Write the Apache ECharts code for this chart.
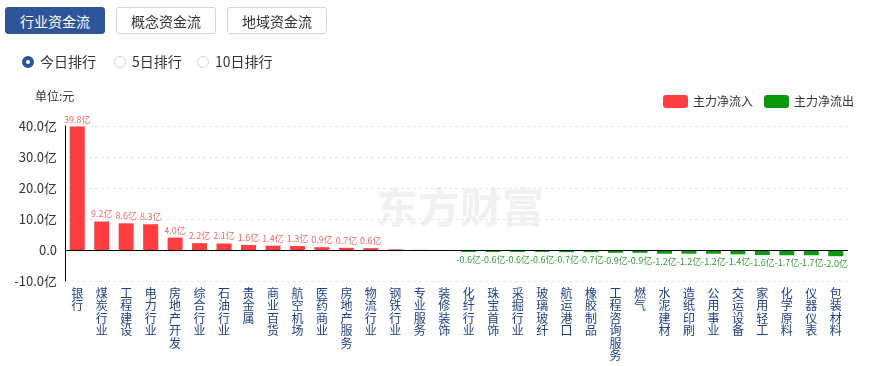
<!DOCTYPE html>
<html><head><meta charset="utf-8">
<script src="https://cdn.jsdelivr.net/npm/echarts@6/dist/echarts.min.js"></script>
<style>
html,body{margin:0;padding:0;background:#fff;font-family:"Noto Sans CJK SC",sans-serif;}
#wrap{position:relative;width:869px;height:366px;overflow:hidden;}
#chart{position:absolute;left:0;top:0;width:869px;height:366px;}
.tab{position:absolute;top:7px;height:27px;line-height:27px;width:100px;text-align:center;font-size:14px;color:#333;border:1px solid #d0d7e2;border-radius:3px;background:#fff;box-sizing:border-box;}
.tab.on{background:#2d5597;color:#fff;border-color:#2d5597;}
.radio{position:absolute;top:52px;font-size:14px;color:#333;line-height:18px;}
.radio i{display:inline-block;width:10px;height:10px;border:1px solid #cfd6e0;border-radius:50%;vertical-align:-1px;margin-right:6px;box-sizing:content-box;}
.radio i.on{border:4px solid #2d5597;width:4px;height:4px;}
</style></head>
<body><div id="wrap">
<div id="chart"></div>
<div class="tab on" style="left:5px">行业资金流</div>
<div class="tab" style="left:116px">概念资金流</div>
<div class="tab" style="left:227px">地域资金流</div>
<div class="radio" style="left:22px"><i class="on"></i>今日排行</div>
<div class="radio" style="left:114px"><i></i>5日排行</div>
<div class="radio" style="left:197px"><i></i>10日排行</div>
</div>
<script>
const categories = ['银行','煤炭行业','工程建设','电力行业','房地产开发','综合行业','石油行业','贵金属','商业百货','航空机场','医药商业','房地产服务','物流行业','钢铁行业','专业服务','装修装饰','化纤行业','珠宝首饰','采掘行业','玻璃玻纤','航运港口','橡胶制品','工程咨询服务','燃气','水泥建材','造纸印刷','公用事业','交运设备','家用轻工','化学原料','仪器仪表','包装材料'];
const netFlow = [39.8,9.2,8.6,8.3,4.0,2.2,2.1,1.6,1.4,1.3,0.9,0.7,0.6,0.2,0.05,-0.1,-0.6,-0.6,-0.6,-0.6,-0.7,-0.7,-0.9,-0.9,-1.2,-1.2,-1.2,-1.4,-1.6,-1.7,-1.7,-2.0];
const yTicks = {min:-10, max:40, interval:10};
const legendNames = ['主力净流入','主力净流出'];

const inflow = netFlow.map(v => v > 0 ? v : '-');
const outflow = netFlow.map(v => v < 0 ? v : '-');
const labelFmt = p => Math.abs(p.value) < 0.5 ? '' : p.value.toFixed(1) + '亿';

const chart = echarts.init(document.getElementById('chart'));
chart.setOption({
  animation:false,
  textStyle:{fontFamily:'"Noto Sans CJK SC",sans-serif'},
  graphic:[
    {type:'text', left:35, top:90, style:{text:'单位:元', fontSize:12, fill:'#333', fontFamily:'"Noto Sans CJK SC"'}},
    {type:'text', left:376, top:186, z:-1, style:{text:'东方财富', fontSize:42, fontWeight:'bold', fill:'#f1f1f1', fontFamily:'"Noto Sans CJK SC"'}}
  ],
  legend:{right:10, top:90, itemWidth:25, itemHeight:13, itemGap:11, icon:'roundRect',
    textStyle:{fontSize:12, color:'#333'}, data:legendNames},
  grid:{left:65, right:21, top:126, height:155, containLabel:false, outerBoundsMode:'none'},
  xAxis:{type:'category', data:categories, position:'bottom',
    axisLine:{show:false, onZero:false}, axisTick:{show:false},
    axisLabel:{interval:0, margin:6, fontSize:12, lineHeight:12.5, color:'#1d3f86',
      formatter:v => v.split('').join('\n')}},
  yAxis:{type:'value', min:yTicks.min, max:yTicks.max, interval:yTicks.interval,
    axisLine:{show:true, lineStyle:{color:'#000'}}, axisTick:{show:false},
    axisLabel:{fontSize:13, color:'#333', margin:8, formatter:v => v === 0 ? '0.0' : v.toFixed(1) + '亿'},
    splitLine:{lineStyle:{color:'#e6e6e6', type:[3,3]}}},
  series:[
    {name:legendNames[0], type:'bar', stack:'f', data:inflow, barWidth:15,
      itemStyle:{color:'#ff3f3f'},
      label:{show:true, position:'top', fontSize:9, color:'#ef6b6b', distance:3, formatter:labelFmt},
      markLine:{silent:true, symbol:'none', label:{show:false}, lineStyle:{color:'#000', type:'solid', width:1},
        data:[{yAxis:0}]}},
    {name:legendNames[1], type:'bar', stack:'f', data:outflow, barWidth:15,
      itemStyle:{color:'#0a990a'},
      label:{show:true, position:'bottom', fontSize:9, color:'#3a9a3a', distance:3, formatter:labelFmt}}
  ]
});
</script>
</body></html>
